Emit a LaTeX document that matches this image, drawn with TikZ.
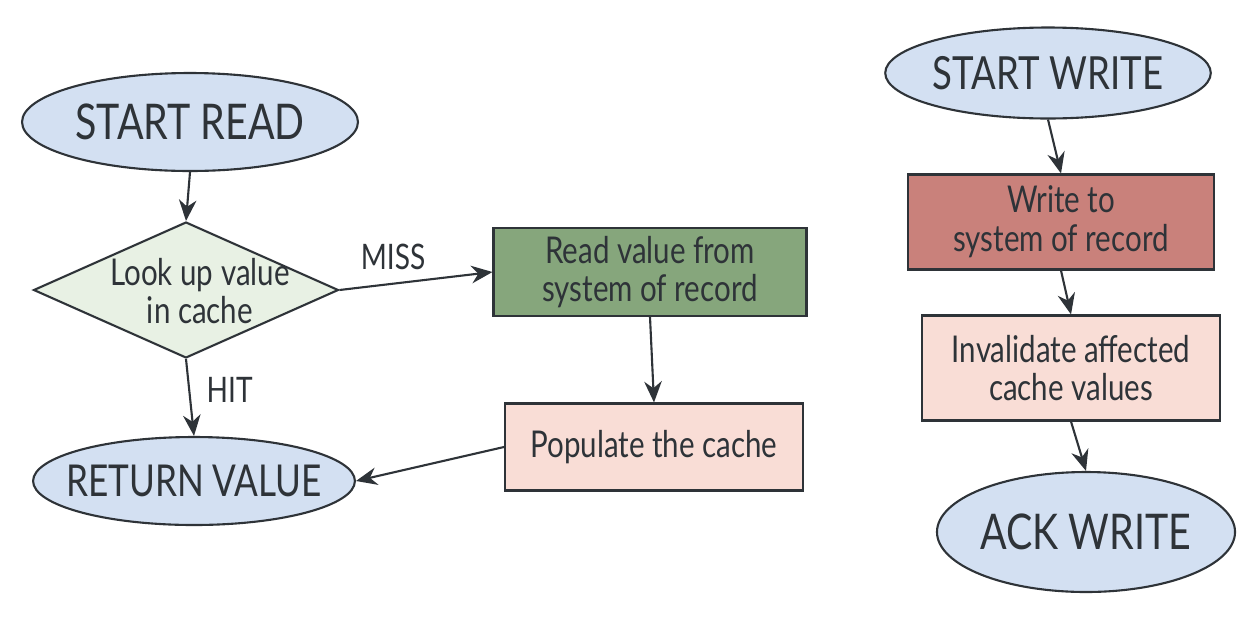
\documentclass[tikz,border=0pt]{standalone}
\usepackage{fontspec}
\setmainfont[FakeStretch=0.8]{Lato}
\usetikzlibrary{shapes.geometric,arrows.meta}

\definecolor{ink}{HTML}{2E3338}
\definecolor{skyfill}{HTML}{D3E0F2}
\definecolor{leafpale}{HTML}{E8F1E4}
\definecolor{leafdark}{HTML}{86A67C}
\definecolor{rosepale}{HTML}{F9DDD6}
\definecolor{rosedark}{HTML}{C9817B}

\tikzset{
    terminal/.style={ellipse, draw=ink, line width=1.2pt, fill=skyfill, text=ink,
        inner sep=0pt, font=\fontsize{28}{32}\selectfont},
    process/.style={rectangle, draw=ink, line width=1.2pt, text=ink, align=center,
        inner sep=0pt, font=\fontsize{21}{22}\selectfont},
    decision/.style={diamond, draw=ink, line width=1.2pt, fill=leafpale, inner sep=0pt},
    flow/.style={draw=ink, line width=1.2pt, -{Stealth[length=12pt,width=10pt]}},
    tag/.style={text=ink, align=center, font=\fontsize{20}{24}\selectfont}
}

\begin{document}
\begin{tikzpicture}[x=0.02cm, y=-0.02cm]
    \useasboundingbox (0,0) rectangle (1256,626);

    % read path
    \node[terminal, minimum width=6.72cm, minimum height=1.96cm] (startread) at (190,122) {START READ};
    \node[decision, minimum width=6.1cm, minimum height=2.72cm] (lookup) at (186,290) {};
    \node[tag, font=\fontsize{21}{22}\selectfont] (lookuptext) at (200,291) {Look up value\\in cache};
    \node[process, fill=leafdark, minimum width=6.26cm, minimum height=1.76cm] (readsor) at (650,272) {Read value from\\system of record};
    \node[process, fill=rosepale, minimum width=5.96cm, minimum height=1.74cm] (populate) at (654,447) {Populate the cache};
    \node[terminal, minimum width=6.24cm, minimum height=1.76cm, inner xsep=-8pt, font=\fontsize{25}{30}\selectfont] (retval) at (194,481) {RETURN VALUE};

    \draw[flow] (startread.south) -- (lookup.north);
    \draw[flow] (lookup.east) -- (readsor.west) node[tag, pos=0.35, above=4pt] (miss) {MISS};
    \draw[flow] (lookup.south) -- (retval.north) node[tag, pos=0.4, right=6pt] (hit) {HIT};
    \draw[flow] (readsor.south) -- (populate.north);
    \draw[flow] (populate.west) -- (retval.east);

    % write path
    \node[terminal, minimum width=5.46cm, minimum height=1.82cm, font=\fontsize{26}{30}\selectfont] (startwrite) at (1048,73) {START WRITE};
    \node[process, fill=rosedark, minimum width=6.12cm, minimum height=1.9cm] (writesor) at (1061,222) {Write to\\system of record};
    \node[process, fill=rosepale, minimum width=5.96cm, minimum height=2.1cm] (invalidate) at (1071,368) {Invalidate affected\\cache values};
    \node[terminal, minimum width=5.66cm, minimum height=2.4cm] (ackwrite) at (1086,532) {ACK WRITE};

    \draw[flow] (startwrite.south) -- (writesor.north);
    \draw[flow] (writesor.south) -- (invalidate.north);
    \draw[flow] (invalidate.south) -- (ackwrite.north);
\end{tikzpicture}
\end{document}
